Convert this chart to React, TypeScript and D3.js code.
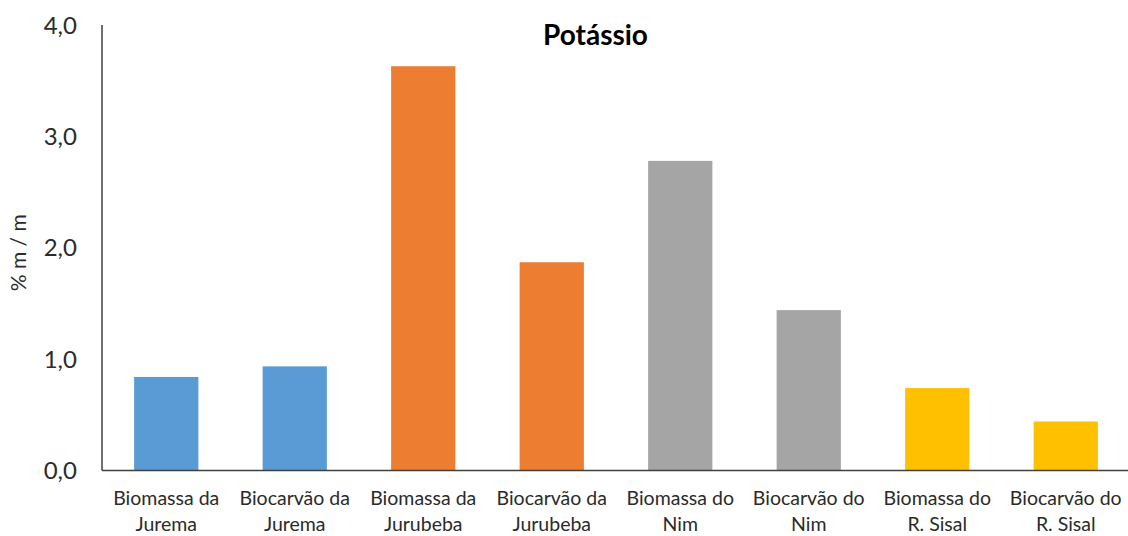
import React from "react";
import * as d3 from "d3";

const categoryLines: string[][] = [
  ["Biomassa da", "Jurema"],
  ["Biocarvão da", "Jurema"],
  ["Biomassa da", "Jurubeba"],
  ["Biocarvão da", "Jurubeba"],
  ["Biomassa do", "Nim"],
  ["Biocarvão do", "Nim"],
  ["Biomassa do", "R. Sisal"],
  ["Biocarvão do", "R. Sisal"],
];
const categories = categoryLines.map((l) => l.join(" "));
const values = [0.84, 0.935, 3.63, 1.87, 2.78, 1.44, 0.74, 0.44];
const barColors = ["#5B9BD5", "#5B9BD5", "#ED7D31", "#ED7D31", "#A5A5A5", "#A5A5A5", "#FFC000", "#FFC000"];
const yTicks = [0, 1, 2, 3, 4];
const title = "Potássio";
const yTitle = "% m / m";

const W = 1128;
const H = 536;
const left = 102;
const right = 1130;
const top = 25;
const bottom = 470.5;
const font = "Lato, 'Open Sans', sans-serif";

export default function App() {
  const x = d3.scaleBand<string>().domain(categories).range([left, right]).paddingInner(0.5).paddingOuter(0.25);
  const y = d3.scaleLinear().domain([0, 4]).range([bottom, top]);
  const fmt = (v: number) => d3.format(".1f")(v).replace(".", ",");

  return (
    <svg width={W} height={H} style={{ position: "absolute", left: 0, top: 0, background: "#fff" }}>
      <rect x={0} y={0} width={W} height={H} fill="#fff" />
      {categories.map((c, i) => (
        <rect key={c} x={x(c)} y={y(values[i])} width={x.bandwidth()} height={y(0) - y(values[i])} fill={barColors[i]} />
      ))}
      <line x1={left} x2={W} y1={y(0)} y2={y(0)} stroke="#404040" strokeWidth={1.5} />
      <line x1={left} x2={left} y1={y(4)} y2={y(0)} stroke="#404040" strokeWidth={1.5} />
      {yTicks.map((t) => (
        <text key={t} x={77} y={y(t)} dy="0.36em" textAnchor="end" fontFamily={font} fontSize={24} fill="#2b2b2b">
          {fmt(t)}
        </text>
      ))}
      {categories.map((c, i) => (
        <text key={c} textAnchor="middle" fontFamily={font} fontSize={19.5} fill="#2b2b2b">
          {categoryLines[i].map((ln, j) => (
            <tspan key={j} x={(x(c) as number) + x.bandwidth() / 2} y={505 + j * 26}>
              {ln}
            </tspan>
          ))}
        </text>
      ))}
      <text x={595.5} y={45} textAnchor="middle" fontFamily={font} fontSize={28} fontWeight="bold" fill="#000">
        {title}
      </text>
      <text
        transform={`translate(26, ${(top + bottom) / 2 + 5}) rotate(-90)`}
        textAnchor="middle"
        fontFamily={font}
        fontSize={21}
        fill="#2b2b2b"
      >
        {yTitle}
      </text>
    </svg>
  );
}
